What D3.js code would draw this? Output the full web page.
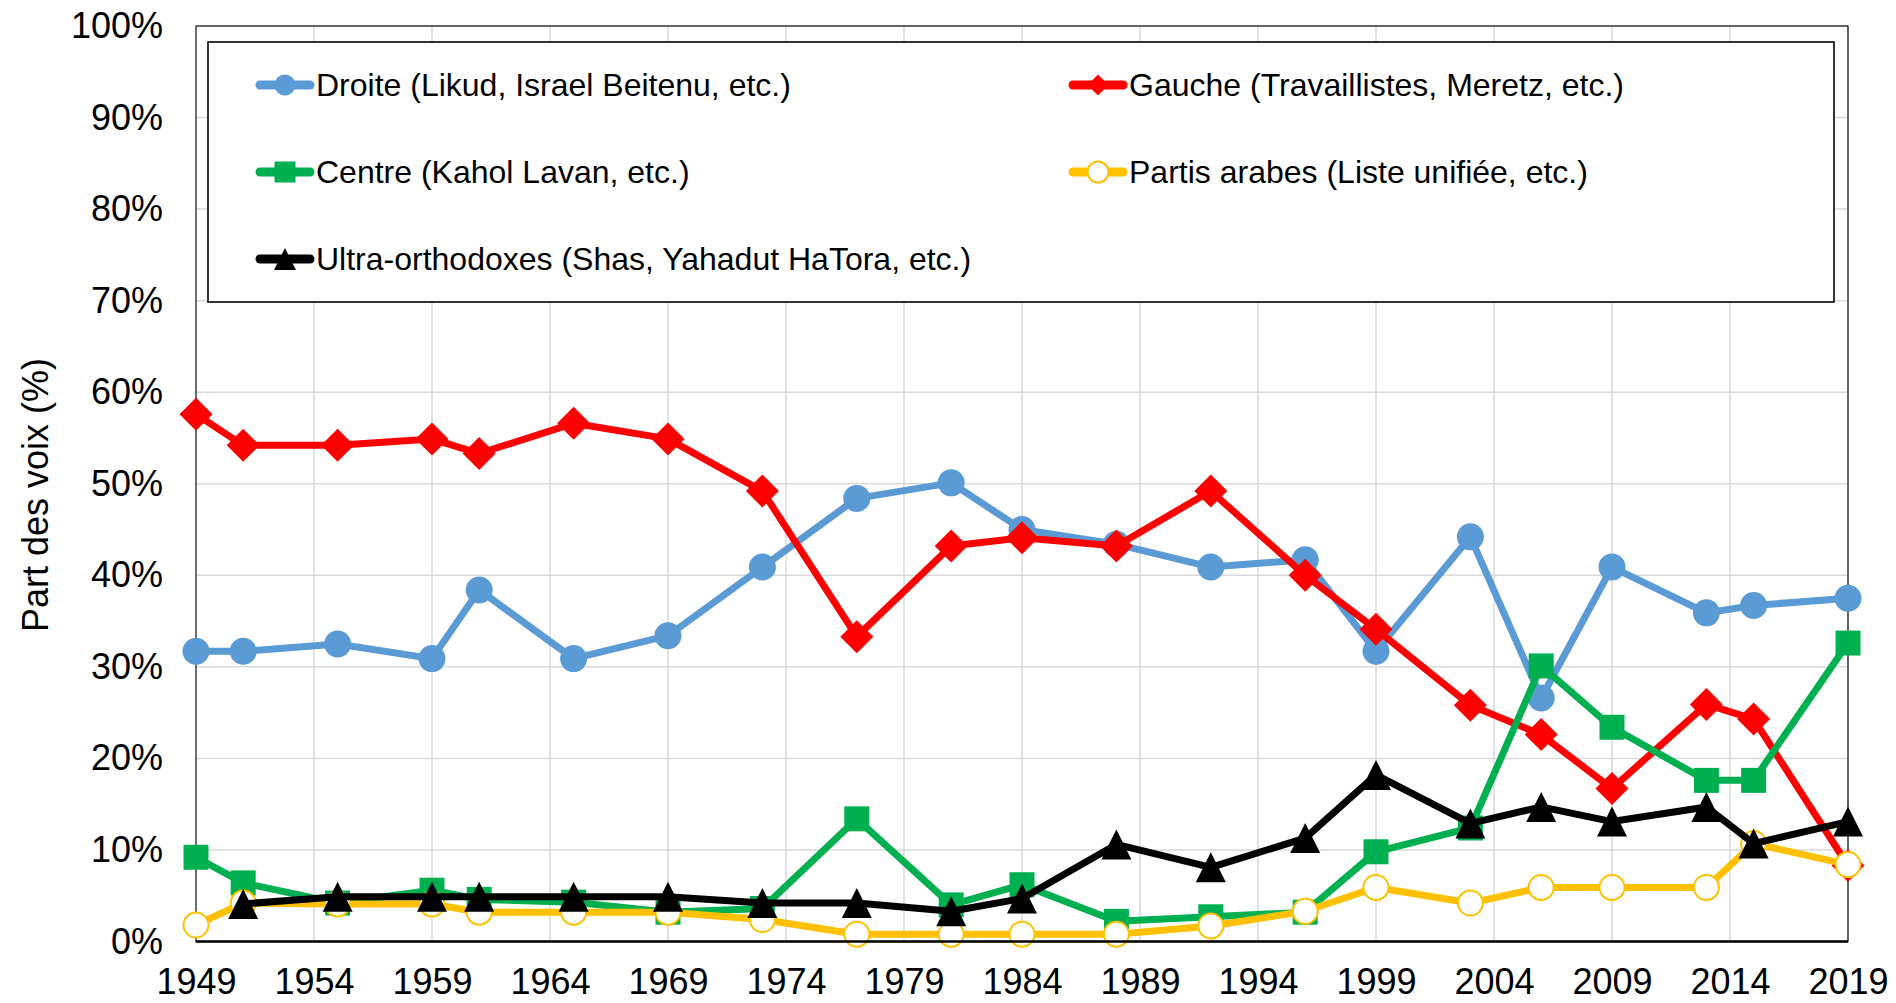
<!DOCTYPE html>
<html>
<head>
<meta charset="utf-8">
<script src="https://cdn.jsdelivr.net/npm/d3@7"></script>
<style>
  body { margin: 0; background: #fff; }
  text { font-family: "Liberation Sans", Arial, sans-serif; fill: #000; }
</style>
</head>
<body>
<svg id="chart" width="1896" height="1003"></svg>
<script>
// election years
const years = [1949, 1951, 1955, 1959, 1961, 1965, 1969, 1973, 1977, 1981, 1984, 1988, 1992, 1996, 1999, 2003, 2006, 2009, 2013, 2015, 2019];

// vote shares (%)
const droite = [31.7, 31.7, 32.5, 30.9, 38.4, 30.9, 33.4, 40.9, 48.4, 50.1, 45.0, 43.4, 40.9, 41.7, 31.7, 44.2, 26.6, 40.9, 35.9, 36.7, 37.5];
const gauche = [57.6, 54.2, 54.2, 54.9, 53.3, 56.6, 54.9, 49.2, 33.3, 43.2, 44.1, 43.2, 49.2, 40.0, 34.1, 25.8, 22.6, 16.7, 25.9, 24.3, 8.3];
const centre = [9.2, 6.4, 4.2, 5.6, 4.6, 4.3, 3.2, 3.6, 13.4, 4.0, 6.2, 2.2, 2.7, 3.2, 9.8, 12.4, 30.1, 23.4, 17.6, 17.6, 32.6];
const arabes = [1.8, 4.2, 4.1, 4.1, 3.2, 3.2, 3.2, 2.4, 0.8, 0.8, 0.8, 0.8, 1.7, 3.3, 5.9, 4.2, 5.9, 5.9, 5.9, 10.7, 8.4];
const ultra = [null, 4.1, 4.9, 4.9, 4.9, 4.9, 4.9, 4.2, 4.2, 3.3, 4.7, 10.6, 8.1, 11.3, 18.2, 12.9, 14.7, 13.1, 14.7, 10.7, 13.1];

const seriesNames = [
  'Droite (Likud, Israel Beitenu, etc.)',
  'Gauche (Travaillistes, Meretz, etc.)',
  'Centre (Kahol Lavan, etc.)',
  'Partis arabes (Liste unifiée, etc.)',
  'Ultra-orthodoxes (Shas, Yahadut HaTora, etc.)'
];

// tick labels
const xTicks = [1949, 1954, 1959, 1964, 1969, 1974, 1979, 1984, 1989, 1994, 1999, 2004, 2009, 2014, 2019];
const yTicks = [0, 10, 20, 30, 40, 50, 60, 70, 80, 90, 100];
const yTitle = 'Part des voix (%)';

const svg = d3.select('#chart');

const plotLeft = 196, plotRight = 1848, plotTop = 26, plotBottom = 941.5;
const x = d3.scaleLinear().domain([1949, 2019]).range([plotLeft, plotRight]);
const y = d3.scaleLinear().domain([0, 100]).range([plotBottom, plotTop]);

// marker shapes
const shapes = {
  circle: s => `M${-s / 2},0a${s / 2},${s / 2} 0 1,0 ${s},0a${s / 2},${s / 2} 0 1,0 ${-s},0Z`,
  diamond: s => `M0,${-s / 2}L${s / 2},0L0,${s / 2}L${-s / 2},0Z`,
  square: s => `M${-s / 2},${-s / 2}h${s}v${s}h${-s}Z`,
  triangle: s => `M0,${-s / 2}L${s / 2},${s / 2}L${-s / 2},${s / 2}Z`
};

const series = [
  { name: seriesNames[0], values: droite, color: '#5b9bd5', shape: 'circle', size: 27, fill: '#5b9bd5' },
  { name: seriesNames[1], values: gauche, color: '#ff0000', shape: 'diamond', size: 33, fill: '#ff0000' },
  { name: seriesNames[2], values: centre, color: '#00b050', shape: 'square', size: 25, fill: '#00b050' },
  { name: seriesNames[3], values: arabes, color: '#ffc000', shape: 'circle', size: 25, fill: '#ffffff' },
  { name: seriesNames[4], values: ultra, color: '#000000', shape: 'triangle', size: 30, fill: '#000000' }
];

// gridlines
const grid = svg.append('g');
grid.selectAll('.vg')
  .data(xTicks.slice(1))
  .join('line')
  .attr('x1', d => x(d)).attr('x2', d => x(d))
  .attr('y1', plotTop).attr('y2', plotBottom)
  .attr('stroke', '#d9d9d9').attr('stroke-width', 1.5);
grid.selectAll('.hg')
  .data(yTicks.slice(1))
  .join('line')
  .attr('x1', plotLeft).attr('x2', plotRight)
  .attr('y1', d => y(d)).attr('y2', d => y(d))
  .attr('stroke', '#d9d9d9').attr('stroke-width', 1.5);

// plot frame
svg.append('rect')
  .attr('x', plotLeft).attr('y', plotTop)
  .attr('width', plotRight - plotLeft).attr('height', plotBottom - plotTop)
  .attr('fill', 'none').attr('stroke', '#222').attr('stroke-width', 1.3);

// axes (labels only)
const xAxis = svg.append('g')
  .attr('transform', `translate(0,${plotBottom})`)
  .call(d3.axisBottom(x).tickValues(xTicks).tickFormat(d3.format('d')).tickSize(0).tickPadding(27));
const yAxis = svg.append('g')
  .attr('transform', `translate(${plotLeft},0)`)
  .call(d3.axisLeft(y).tickValues(yTicks).tickFormat(d => d + '%').tickSize(0).tickPadding(33));
[xAxis, yAxis].forEach(a => {
  a.select('.domain').remove();
  a.selectAll('text').style('font-size', '36px').attr('fill', '#000')
    .style('font-family', '"Liberation Sans", Arial, sans-serif');
});

// y axis title
svg.append('text')
  .attr('transform', 'translate(35,495) rotate(-90)')
  .attr('text-anchor', 'middle')
  .attr('dy', '0.35em')
  .style('font-size', '36px')
  .text(yTitle);

// series lines + markers
const line = d3.line()
  .defined(d => d[1] != null)
  .x(d => x(d[0]))
  .y(d => y(d[1]));

series.forEach(s => {
  const pts = years.map((yr, i) => [yr, s.values[i]]);
  const g = svg.append('g');
  g.append('path')
    .attr('d', line(pts))
    .attr('fill', 'none')
    .attr('stroke', s.color)
    .attr('stroke-width', 7)
    .attr('stroke-linejoin', 'round');
  g.selectAll('.m')
    .data(pts.filter(d => d[1] != null))
    .join('path')
    .attr('transform', d => `translate(${x(d[0])},${y(d[1])})`)
    .attr('d', shapes[s.shape](s.size))
    .attr('fill', s.fill)
    .attr('stroke', s.fill === '#ffffff' ? s.color : 'none')
    .attr('stroke-width', 2);
});

// bottom axis line
svg.append('line')
  .attr('x1', plotLeft).attr('x2', plotRight)
  .attr('y1', plotBottom).attr('y2', plotBottom)
  .attr('stroke', '#000').attr('stroke-width', 2.5);

// legend
const legend = svg.append('g');
legend.append('rect')
  .attr('x', 208).attr('y', 42)
  .attr('width', 1626).attr('height', 260)
  .attr('fill', '#fff').attr('stroke', '#000').attr('stroke-width', 1.6);

const colX = [256, 1069];
const rowY = [85, 172, 259];
series.forEach((s, i) => {
  const lx = colX[i % 2];
  const ly = rowY[Math.floor(i / 2)];
  const item = legend.append('g').attr('transform', `translate(${lx},${ly})`);
  item.append('line')
    .attr('x1', 4).attr('x2', 54)
    .attr('stroke', s.color).attr('stroke-width', 9).attr('stroke-linecap', 'round');
  item.append('path')
    .attr('transform', 'translate(29,0)')
    .attr('d', shapes[s.shape](s.shape === 'triangle' ? 22 : 21))
    .attr('fill', s.fill)
    .attr('stroke', s.fill === '#ffffff' ? s.color : 'none')
    .attr('stroke-width', 2);
  item.append('text')
    .attr('x', 60)
    .attr('dy', '0.35em')
    .style('font-size', '32px')
    .text(s.name);
});
</script>
</body>
</html>
